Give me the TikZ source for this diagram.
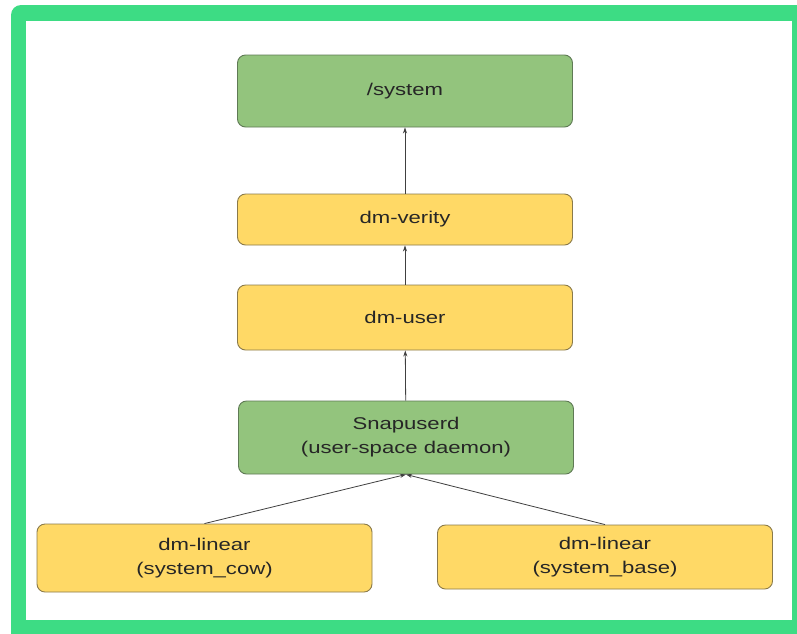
\documentclass[tikz,border=0pt]{standalone}
\usepackage{fontspec}
\setmainfont[FakeStretch=1.3]{Liberation Sans}
\usepackage{xcolor}
\definecolor{androidgreen}{HTML}{3DDC84}
\definecolor{boxgreen}{HTML}{93C47D}
\definecolor{boxyellow}{HTML}{FFD966}
\definecolor{edgegreen}{HTML}{5F7A55}
\definecolor{edgeyellow}{HTML}{8A7A4A}
\definecolor{textgray}{HTML}{262626}
\usepackage{tikz}
\usetikzlibrary{arrows.meta}
\newcommand{\widthbox}{335pt}
\tikzset{
    common/.style={draw, rectangle, rounded corners=8pt, minimum width=\widthbox,
        align=center, text=textgray, line width=0.9pt,
        font=\fontsize{17pt}{24pt}\selectfont},
    greenbox/.style={common, fill=boxgreen, draw=edgegreen},
    yellowbox/.style={common, fill=boxyellow, draw=edgeyellow},
    feed/.style={-{Stealth[length=6pt, width=4pt]}, draw=black!75, line width=0.8pt}
}

\begin{document}
\begin{tikzpicture}[x=1pt, y=-1pt]
    \useasboundingbox (0,0) rectangle (797,633);
    \clip (0,0) rectangle (797,633);

    % frame
    \fill[androidgreen, rounded corners=10pt] (11,5) rectangle (812,648);
    \fill[white] (26,21) rectangle (792,620);

    % stack
    \node[greenbox, minimum height=72pt] (system) at (405,91) {/system};
    \node[yellowbox, minimum height=51pt] (verity) at (405,219.5) {dm-verity};
    \node[yellowbox, minimum height=65pt] (user) at (405,317.5) {dm-user};
    \node[greenbox, minimum height=73pt] (snapuserd) at (406,437.5) {Snapuserd\\(user-space daemon)};
    \node[yellowbox, minimum height=68pt] (cow) at (204.5,558) {dm-linear\\(system\_cow)};
    \node[yellowbox, minimum height=64pt] (base) at (605,557) {dm-linear\\(system\_base)};

    \draw[feed] (verity) -- (system);
    \draw[feed] (user) -- (verity);
    \draw[feed] (snapuserd) -- (user);
    \draw[feed] (cow.north) -- (snapuserd.south);
    \draw[feed] (base.north) -- (snapuserd.south);
\end{tikzpicture}
\end{document}
